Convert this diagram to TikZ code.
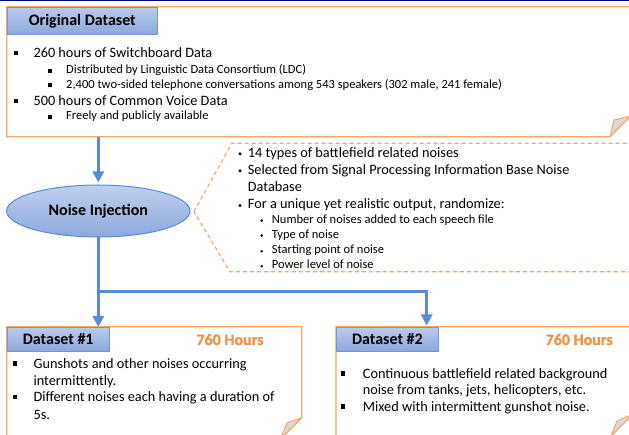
\documentclass[tikz,border=0pt]{standalone}
\usepackage{fontspec}
\setmainfont{Carlito}
\newfontfamily\hoursfont[FakeBold=1.2]{Carlito Bold}
\usetikzlibrary{arrows.meta,shapes.geometric}
\definecolor{navyline}{RGB}{0,0,128}
\definecolor{boxorange}{RGB}{244,167,104}
\definecolor{hoursorange}{RGB}{241,145,70}
\definecolor{tabtop}{RGB}{185,202,237}
\definecolor{tabbot}{RGB}{141,168,220}
\definecolor{tabline}{RGB}{110,150,216}
\definecolor{connblue}{RGB}{88,139,215}
\definecolor{foldgray}{RGB}{217,217,217}
\tikzset{
  tabbox/.style={draw=tabline, line width=0.8pt, top color=tabtop, bottom color=tabbot,
    font=\fontsize{16}{19}\selectfont\bfseries, inner sep=0, anchor=north west},
  outline/.style={draw=boxorange, line width=1.2pt},
  foldtri/.style={draw=boxorange, fill=foldgray, line width=1pt, line join=round},
  conn/.style={draw=connblue, line width=3.3pt},
  arr/.style={-{Triangle[length=11pt,width=11pt]}},
  maintxt/.style={anchor=base west, inner sep=0, font=\fontsize{14.3}{17}\selectfont},
  subtxt/.style={anchor=base west, inner sep=0, font=\fontsize{12.5}{15}\selectfont},
  hours/.style={anchor=base, inner sep=0, text=hoursorange, font=\hoursfont\fontsize{16}{19}\selectfont},
  callout/.style={draw=boxorange, line width=1.15pt, dash pattern=on 4pt off 3pt},
}
\newcommand\sqbul[3]{\fill (#1-#3/2,#2-#3/2) rectangle (#1+#3/2,#2+#3/2);}
\newcommand\dotbul[3]{\fill (#1,#2) circle (#3);}
\begin{document}
\begin{tikzpicture}[x=1pt,y=-1pt]
\useasboundingbox (0,0) rectangle (629,435);
\clip (0,0) rectangle (629,435);
\fill[white] (0,0) rectangle (629,435);
% top navy line
\draw[navyline, line width=1.5pt] (0,0.7) -- (629,0.7);

% ---------- Original dataset box ----------
\draw[outline] (631,6.7) -- (6.7,6.7) -- (6.7,136.7) -- (610,136.7) -- (631,115.7) -- cycle;
\draw[foldtri] (610,136.7) -- (614,120) -- (631,115.7) -- cycle;
\node[tabbox, minimum width=150.3pt, minimum height=27.3pt] (orig) at (6.7,6.7) {Original Dataset};

\sqbul{16}{52.7}{4.3}
\node[maintxt] (o1) at (33.3,57.3) {260 hours of Switchboard Data};
\sqbul{50}{71}{3.6}
\node[subtxt] (o2) at (66,74) {Distributed by Linguistic Data Consortium (LDC)};
\sqbul{50}{85.3}{3.6}
\node[subtxt] (o3) at (66,88.3) {2,400 two-sided telephone conversations among 543 speakers (302 male, 241 female)};
\sqbul{16}{101}{4.3}
\node[maintxt] (o4) at (33.3,105.5) {500 hours of Common Voice Data};
\sqbul{50}{117}{3.6}
\node[subtxt] (o5) at (66,120) {Freely and publicly available};

% ---------- Noise injection ----------
\node[ellipse, draw=connblue, line width=1pt, top color=tabtop!90!white, bottom color=tabbot,
  minimum width=183.4pt, minimum height=52pt, inner sep=0,
  font=\fontsize{16}{19}\selectfont\bfseries] (noise) at (98.3,211) {Noise Injection};

% callout
\draw[callout] (194,211.7) -- (231.7,143.3) -- (640,143.3) -- (640,271.7) -- (230,271.7) -- cycle;
\dotbul{240}{153.8}{1.7}
\node[maintxt] (c1) at (247.7,157.3) {14 types of battlefield related noises};
\dotbul{240}{170.8}{1.7}
\node[maintxt] (c2) at (247.7,174.3) {Selected from Signal Processing Information Base Noise};
\node[maintxt] (c3) at (247.7,191.7) {Database};
\dotbul{240}{205.5}{1.7}
\node[maintxt] (c4) at (247.7,209) {For a unique yet realistic output, randomize:};
\dotbul{261.7}{220.6}{1.4}
\node[subtxt] (c5) at (271.7,223.3) {Number of noises added to each speech file};
\dotbul{261.7}{235.6}{1.4}
\node[subtxt] (c6) at (271.7,238.3) {Type of noise};
\dotbul{261.7}{251.3}{1.4}
\node[subtxt] (c7) at (271.7,254) {Starting point of noise};
\dotbul{261.7}{266.3}{1.4}
\node[subtxt] (c8) at (271.7,269) {Power level of noise};

% ---------- Dataset #1 ----------
\draw[outline] (6.7,445) -- (6.7,326.7) -- (301.7,326.7) -- (301.7,417.7) -- (279.7,439.7);
\draw[foldtri] (279.7,439.7) -- (287.5,422.7) -- (301.7,417.7) -- cycle;
\node[tabbox, minimum width=102.3pt, minimum height=24pt] (ds1) at (6.7,326.7) {Dataset \#1};
\node[hours] (h1) at (230,345) {760 Hours};
\sqbul{15}{363.5}{4.3}
\node[maintxt] (d1a) at (33.3,368.3) {Gunshots and other noises occurring};
\node[maintxt] (d1b) at (33.3,385) {intermittently.};
\sqbul{15}{397.2}{4.3}
\node[maintxt] (d1c) at (33.3,401.7) {Different noises each having a duration of};
\node[maintxt] (d1d) at (33.3,419.3) {5s.};

% ---------- Dataset #2 ----------
\draw[outline] (336,445) -- (336,326.7) -- (633,326.7) -- (633,414) -- (611,436) -- (336,436);
\draw[foldtri] (611,436) -- (617,421) -- (633,414) -- cycle;
\node[tabbox, minimum width=102pt, minimum height=24pt] (ds2) at (336,326.7) {Dataset \#2};
\node[hours] (h2) at (579.2,345) {760 Hours};
\sqbul{343.3}{373.5}{4.3}
\node[maintxt] (d2a) at (362.7,378.3) {Continuous battlefield related background};
\node[maintxt] (d2b) at (362.7,395) {noise from tanks, jets, helicopters, etc.};
\sqbul{343.3}{406.5}{4.3}
\node[maintxt] (d2c) at (362.7,411.7) {Mixed with intermittent gunshot noise.};

% ---------- connectors ----------
\coordinate (origbot) at (98.3,136.7);
\coordinate (split) at (98.3,291.7);
\coordinate (ds1in) at (98.3,327);
\coordinate (ds2in) at (426.7,325.5);
\draw[conn,arr,shorten >=2pt] (origbot) -- (noise.north);
\draw[conn,arr] (noise.south) -- (ds1in);
\draw[conn,arr] (split) -| (ds2in);
\end{tikzpicture}
\end{document}
